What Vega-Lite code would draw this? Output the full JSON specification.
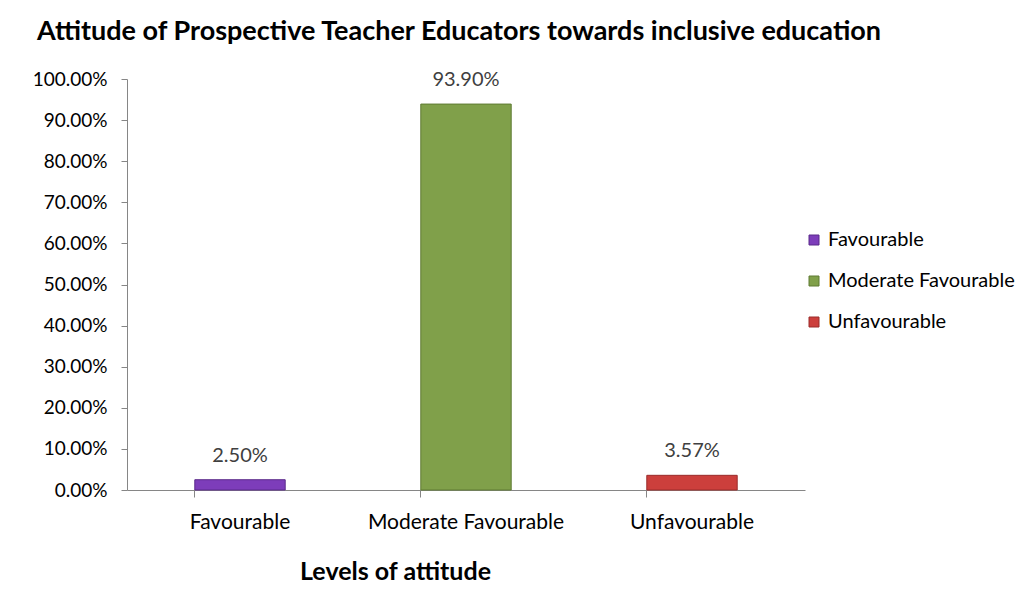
{
  "$schema": "https://vega.github.io/schema/vega-lite/v6.json",
  "autosize": "none",
  "width": 678,
  "height": 411,
  "padding": {"left": 127, "top": 79, "right": 219, "bottom": 104},
  "background": "white",
  "config": {
    "font": "Lato",
    "view": {"stroke": null}
  },
  "title": {
    "text": "Attitude of Prospective Teacher Educators towards inclusive education",
    "font": "Lato",
    "fontSize": 27,
    "fontWeight": "bold",
    "color": "#000000",
    "anchor": "middle",
    "frame": "group",
    "dx": -7,
    "offset": 24
  },
  "data": {
    "values": [
      {"level": "Favourable", "pct": 0.025},
      {"level": "Moderate Favourable", "pct": 0.939},
      {"level": "Unfavourable", "pct": 0.0357}
    ]
  },
  "layer": [
    {
      "mark": {"type": "bar", "strokeWidth": 1},
      "encoding": {
        "x": {
          "field": "level",
          "type": "nominal",
          "sort": null,
          "scale": {"paddingInner": 0.6, "paddingOuter": 0.3},
          "axis": {
            "title": "Levels of attitude",
            "titleFont": "Lato",
            "titleFontSize": 25,
            "titleFontWeight": "bold",
            "titleColor": "#000000",
            "titleX": 268,
            "titleY": 81,
            "titleAlign": "center",
            "titleBaseline": "middle",
            "labelAngle": 0,
            "labelFont": "Lato",
            "labelFontSize": 21,
            "labelColor": "#000000",
            "labelPadding": 14,
            "labelLimit": 400,
            "domainColor": "#868686",
            "tickColor": "#868686",
            "tickSize": 7,
            "bandPosition": 0,
            "grid": false
          }
        },
        "y": {
          "field": "pct",
          "type": "quantitative",
          "scale": {"domain": [0, 1]},
          "axis": {
            "title": null,
            "format": ".2%",
            "values": [0, 0.1, 0.2, 0.3, 0.4, 0.5, 0.6, 0.7, 0.8, 0.9, 1.0],
            "labelFont": "Lato",
            "labelFontSize": 19,
            "labelColor": "#000000",
            "labelPadding": 14,
            "domainColor": "#868686",
            "tickColor": "#868686",
            "tickSize": 6,
            "grid": false
          }
        },
        "color": {
          "field": "level",
          "type": "nominal",
          "sort": null,
          "scale": {
            "domain": ["Favourable", "Moderate Favourable", "Unfavourable"],
            "range": ["#7D3DBA", "#80A04A", "#CC3F3C"]
          },
          "legend": {
            "title": null,
            "orient": "none",
            "legendX": 677,
            "legendY": 151,
            "symbolType": "square",
            "symbolSize": 100,
            "symbolStrokeWidth": 1,
            "labelFont": "Lato",
            "labelFontSize": 20,
            "labelColor": "#000000",
            "labelOffset": 4,
            "rowPadding": 21,
            "labelLimit": 400
          }
        },
        "stroke": {
          "field": "level",
          "type": "nominal",
          "sort": null,
          "scale": {
            "domain": ["Favourable", "Moderate Favourable", "Unfavourable"],
            "range": ["#5A2A8A", "#5E7A32", "#9A2C2A"]
          },
          "legend": null
        }
      }
    },
    {
      "mark": {"type": "text", "dy": -24, "font": "Lato", "fontSize": 20, "color": "#404040"},
      "encoding": {
        "x": {"field": "level", "type": "nominal", "sort": null},
        "y": {"field": "pct", "type": "quantitative"},
        "text": {"field": "pct", "type": "quantitative", "format": ".2%"}
      }
    }
  ]
}
